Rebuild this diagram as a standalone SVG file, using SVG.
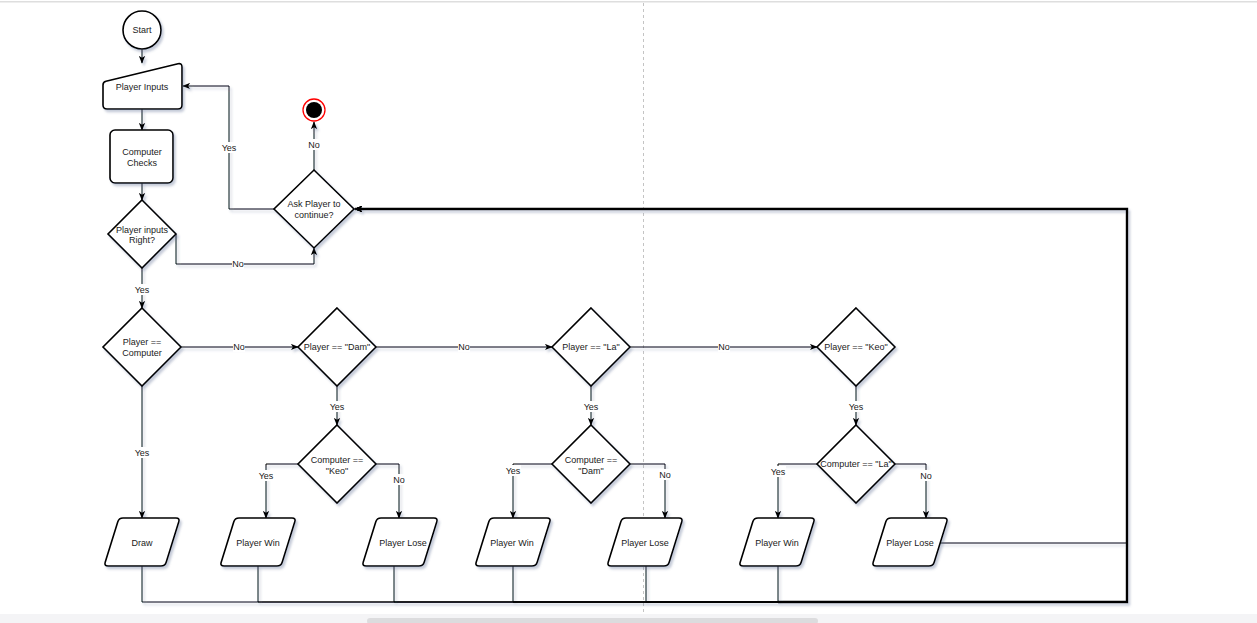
<svg xmlns="http://www.w3.org/2000/svg" xmlns:xlink="http://www.w3.org/1999/xlink" width="1257" height="623" viewBox="0 0 1257 623">
<style>
.shape{fill:#fff;stroke:#000;stroke-width:1.6}
.edge{fill:none;stroke:#000;stroke-width:1}
.t{font-family:"Liberation Sans",Arial,sans-serif;font-size:9px;fill:#1a1a1a;text-anchor:middle;dominant-baseline:central}
.lb{fill:#fff}
</style>
<defs>
<filter id="sh" x="-20%" y="-20%" width="150%" height="150%">
<feDropShadow dx="2" dy="2.5" stdDeviation="1.3" flood-color="#5a6a90" flood-opacity="0.35"/>
</filter>
<marker id="arr" viewBox="0 0 10 8" refX="9" refY="4" markerWidth="8" markerHeight="7" markerUnits="userSpaceOnUse" orient="auto">
<path d="M0,0 L10,4 L0,8 L2.5,4 Z" fill="#000"/>
</marker>
<path id="para" d="M-19,-24 L34,-24 Q38,-24 36.8,-20.2 L24.2,20.2 Q23,24 19,24 L-34,24 Q-38,24 -36.8,20.2 L-24.2,-20.2 Q-23,-24 -19,-24 Z"/>
<polygon id="dia" points="0,-39 39,0 0,39 -39,0"/>
</defs>
<rect x="0" y="0" width="1257" height="623" fill="#fff"/>
<rect x="0" y="1" width="1257" height="1.5" fill="#dedede"/>
<line x1="643.5" y1="3" x2="643.5" y2="612" stroke="#c4c4c4" stroke-width="1" stroke-dasharray="3,3"/>

<g id="connectors" filter="url(#sh)">
<path class="edge" d="M142,49 L142,63" marker-end="url(#arr)"/>
<path class="edge" d="M142,109 L142,130" marker-end="url(#arr)"/>
<path class="edge" d="M142,183 L142,200" marker-end="url(#arr)"/>
<path class="edge" d="M176,234 L176,264 L314,264 L314,248" marker-end="url(#arr)"/>
<path class="edge" d="M274,209 L229,209 L229,86 L183,86" marker-end="url(#arr)"/>
<path class="edge" d="M314,170 L314,122" marker-end="url(#arr)"/>
<path class="edge" d="M142,268 L142,308" marker-end="url(#arr)"/>
<path class="edge" d="M181,347 L298,347" marker-end="url(#arr)"/>
<path class="edge" d="M376,347 L552,347" marker-end="url(#arr)"/>
<path class="edge" d="M630,347 L817,347" marker-end="url(#arr)"/>
<path class="edge" d="M142,386 L142,518" marker-end="url(#arr)"/>
<path class="edge" d="M337,386 L337,425" marker-end="url(#arr)"/>
<path class="edge" d="M591,386 L591,425" marker-end="url(#arr)"/>
<path class="edge" d="M856,386 L856,425" marker-end="url(#arr)"/>
<path class="edge" d="M298,464 L266,464 L266,518" marker-end="url(#arr)"/>
<path class="edge" d="M376,464 L399,464 L399,518" marker-end="url(#arr)"/>
<path class="edge" d="M552,464 L513,464 L513,518" marker-end="url(#arr)"/>
<path class="edge" d="M630,464 L665,464 L665,518" marker-end="url(#arr)"/>
<path class="edge" d="M817,464 L778,464 L778,518" marker-end="url(#arr)"/>
<path class="edge" d="M895,464 L926,464 L926,518" marker-end="url(#arr)"/>
<path class="edge" d="M142,566 L142,602 L1127,602 L1127,209 L355,209" marker-end="url(#arr)"/>
<path class="edge" d="M258,566 L258,602 L1127,602 L1127,209 L355,209" marker-end="url(#arr)"/>
<path class="edge" d="M394,566 L394,602 L1127,602 L1127,209 L355,209" marker-end="url(#arr)"/>
<g><path class="edge" d="M513,566 L513,602"/><path class="edge" style="stroke-width:1.5" d="M513,602 L1127,602 L1127,209 L355,209" marker-end="url(#arr)"/></g>
<g><path class="edge" d="M646,566 L646,602"/><path class="edge" style="stroke-width:1.5" d="M646,602 L1127,602 L1127,209 L355,209" marker-end="url(#arr)"/></g>
<g><path class="edge" d="M778,566 L778,602"/><path class="edge" style="stroke-width:2.4" d="M778,602 L1127,602 L1127,209 L355,209" marker-end="url(#arr)"/></g>
<path class="edge" d="M940,543 L1127,543 L1127,209 L355,209" marker-end="url(#arr)"/>
</g>

<g id="edge-labels">
<rect class="lb" x="221" y="142" width="16" height="11"/><text class="t" x="229" y="148">Yes</text>
<rect class="lb" x="308" y="139" width="12" height="11"/><text class="t" x="314" y="145">No</text>
<rect class="lb" x="232" y="258" width="12" height="11"/><text class="t" x="238" y="264">No</text>
<rect class="lb" x="134" y="284" width="16" height="11"/><text class="t" x="142" y="290">Yes</text>
<rect class="lb" x="233" y="341" width="12" height="11"/><text class="t" x="239" y="347">No</text>
<rect class="lb" x="458" y="341" width="12" height="11"/><text class="t" x="464" y="347">No</text>
<rect class="lb" x="718" y="341" width="12" height="11"/><text class="t" x="724" y="347">No</text>
<rect class="lb" x="329" y="401" width="16" height="11"/><text class="t" x="337" y="407">Yes</text>
<rect class="lb" x="583" y="401" width="16" height="11"/><text class="t" x="591" y="407">Yes</text>
<rect class="lb" x="848" y="401" width="16" height="11"/><text class="t" x="856" y="407">Yes</text>
<rect class="lb" x="134" y="447" width="16" height="11"/><text class="t" x="142" y="453">Yes</text>
<rect class="lb" x="258" y="470" width="16" height="11"/><text class="t" x="266" y="476">Yes</text>
<rect class="lb" x="393" y="474" width="12" height="11"/><text class="t" x="399" y="480">No</text>
<rect class="lb" x="505" y="465" width="16" height="11"/><text class="t" x="513" y="471">Yes</text>
<rect class="lb" x="659" y="469" width="12" height="11"/><text class="t" x="665" y="475">No</text>
<rect class="lb" x="770" y="466" width="16" height="11"/><text class="t" x="778" y="472">Yes</text>
<rect class="lb" x="920" y="470" width="12" height="11"/><text class="t" x="926" y="476">No</text>
</g>

<g id="start"><circle class="shape" cx="142" cy="30" r="19" filter="url(#sh)"/><text class="t" x="142" y="30">Start</text></g>
<g id="end"><circle cx="314" cy="110" r="11" fill="#fff" stroke="#ff0000" stroke-width="1.3"/><circle cx="314" cy="110" r="8" fill="#000"/></g>
<g id="player-inputs"><path class="shape" filter="url(#sh)" d="M103,85 Q103,82 106,81.3 L178,63.8 Q182,63 182,67 L182,105 Q182,109 178,109 L107,109 Q103,109 103,105 Z"/><text class="t" x="142" y="87">Player Inputs</text></g>
<g id="computer-checks"><rect class="shape" filter="url(#sh)" x="110" y="130" width="63" height="53" rx="5"/><text class="t" x="142" y="152">Computer</text><text class="t" x="142" y="163">Checks</text></g>
<g id="inputs-right"><polygon class="shape" filter="url(#sh)" points="142,200 176,234 142,268 108,234"/><text class="t" x="142" y="230">Player inputs</text><text class="t" x="142" y="240">Right?</text></g>
<g id="ask-continue"><polygon class="shape" filter="url(#sh)" points="314,170 354,209 314,248 274,209"/><text class="t" x="314" y="204">Ask Player to</text><text class="t" x="314" y="215">continue?</text></g>
<g id="player-eq-computer"><use href="#dia" class="shape" filter="url(#sh)" x="142" y="347"/><text class="t" x="142" y="342">Player ==</text><text class="t" x="142" y="353">Computer</text></g>
<g id="player-dam"><use href="#dia" class="shape" filter="url(#sh)" x="337" y="347"/><text class="t" x="337" y="347">Player == "Dam"</text></g>
<g id="player-la"><use href="#dia" class="shape" filter="url(#sh)" x="591" y="347"/><text class="t" x="591" y="347">Player == "La"</text></g>
<g id="player-keo"><use href="#dia" class="shape" filter="url(#sh)" x="856" y="347"/><text class="t" x="856" y="347">Player == "Keo"</text></g>
<g id="computer-keo"><use href="#dia" class="shape" filter="url(#sh)" x="337" y="464"/><text class="t" x="337" y="460">Computer ==</text><text class="t" x="337" y="471">"Keo"</text></g>
<g id="computer-dam"><use href="#dia" class="shape" filter="url(#sh)" x="591" y="464"/><text class="t" x="591" y="460">Computer ==</text><text class="t" x="591" y="471">"Dam"</text></g>
<g id="computer-la"><use href="#dia" class="shape" filter="url(#sh)" x="856" y="464"/><text class="t" x="856" y="464">Computer == "La"</text></g>
<g id="draw"><use href="#para" class="shape" filter="url(#sh)" x="142" y="542"/><text class="t" x="142" y="543">Draw</text></g>
<g id="win-1"><use href="#para" class="shape" filter="url(#sh)" x="258" y="542"/><text class="t" x="258" y="543">Player Win</text></g>
<g id="lose-1"><use href="#para" class="shape" filter="url(#sh)" x="400" y="542"/><text class="t" x="403" y="543">Player Lose</text></g>
<g id="win-2"><use href="#para" class="shape" filter="url(#sh)" x="513" y="542"/><text class="t" x="512" y="543">Player Win</text></g>
<g id="lose-2"><use href="#para" class="shape" filter="url(#sh)" x="645" y="542"/><text class="t" x="645" y="543">Player Lose</text></g>
<g id="win-3"><use href="#para" class="shape" filter="url(#sh)" x="777" y="542"/><text class="t" x="777" y="543">Player Win</text></g>
<g id="lose-3"><use href="#para" class="shape" filter="url(#sh)" x="910" y="542"/><text class="t" x="910" y="543">Player Lose</text></g>

<rect x="0" y="614" width="1257" height="9" fill="#f4f4f6"/>
<rect x="367" y="618" width="451" height="6" rx="3" fill="#dcdcde"/>
</svg>
